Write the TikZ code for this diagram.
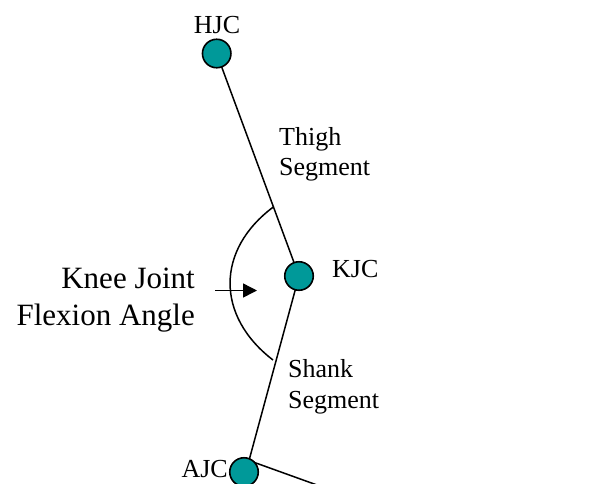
\documentclass[tikz,border=0pt]{standalone}
\usepackage{fontspec}
\setmainfont{Liberation Serif}
\usetikzlibrary{arrows.meta,backgrounds}
\definecolor{jointteal}{RGB}{0,153,153}
\tikzset{
  joint/.style={circle, draw=black, fill=jointteal, line width=1.6pt, minimum size=28.5pt, inner sep=0pt},
  seg/.style={line width=1.5pt, draw=black},
  lbl/.style={inner sep=0pt, font=\fontsize{26}{30}\selectfont},
  biglbl/.style={inner sep=0pt, font=\fontsize{31}{37}\selectfont}
}
\begin{document}
\begin{tikzpicture}[x=1pt,y=-1pt]
\useasboundingbox (0,0) rectangle (593,483);
% joints
\node[joint] (HJC) at (216.7,53.5) {};
\node[joint] (KJC) at (299,276) {};
\node[joint] (AJC) at (244,472) {};
\coordinate (ank) at (249,460.5);
\coordinate (toe) at (318.4,485.5);
\coordinate (arcTop) at (273.3,207);
\coordinate (arcBot) at (273,360);
\coordinate (arrS) at (215,290.5);
\coordinate (arrE) at (257,290.5);
\begin{pgfonlayer}{background}
\draw[seg] (HJC.center) -- (KJC.center);
\draw[seg] (KJC.center) -- (ank);
\draw[seg] (ank) -- (toe);
\end{pgfonlayer}
% angle arc
\draw[seg] (arcTop) .. controls (215.7,250) and (215.7,316) .. (arcBot);
\draw[seg, -{Triangle[length=14pt,width=14pt]}] (arrS) -- (arrE);
% labels
\node[lbl, anchor=base] (tHJC) at (217,33) {HJC};
\node[lbl, anchor=base west] (tThigh) at (279,145) {Thigh};
\node[lbl, anchor=base west] (tSeg1) at (279,175) {Segment};
\node[lbl, anchor=base west] (tKJC) at (332,277) {KJC};
\node[biglbl, anchor=base east] (tKnee) at (195,288) {Knee Joint};
\node[biglbl, anchor=base east] (tFlex) at (195,325) {Flexion Angle};
\node[lbl, anchor=base west] (tShank) at (288,377) {Shank};
\node[lbl, anchor=base west] (tSeg2) at (288,408) {Segment};
\node[lbl, anchor=base east] (tAJC) at (228,477) {AJC};
\end{tikzpicture}
\end{document}
